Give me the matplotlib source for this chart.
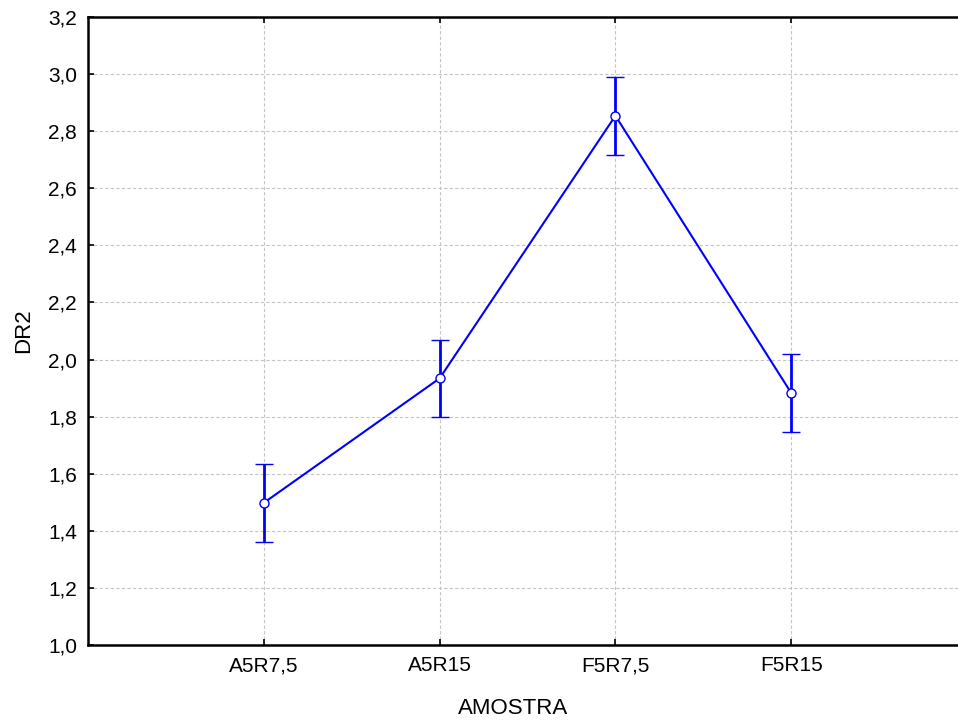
import numpy as np
import matplotlib
matplotlib.use('Agg')
import matplotlib.pyplot as plt

plt.rcParams['font.family'] = ['Liberation Sans', 'DejaVu Sans']

#%% data
amostras = ['A5R7,5', 'A5R15', 'F5R7,5', 'F5R15']
dr2_mean = [1.498, 1.934, 2.854, 1.883]
dr2_err = [0.137, 0.136, 0.137, 0.137]
y_ticks = [1.0, 1.2, 1.4, 1.6, 1.8, 2.0, 2.2, 2.4, 2.6, 2.8, 3.0, 3.2]

#%% plot
fig = plt.figure(figsize=(9.58, 7.24), dpi=100)
# axes run slightly past the right edge, like the original (no right border visible)
ax = fig.add_axes([88/958, 1 - 645/724, (967 - 88)/958, (645 - 17)/724])

x = np.arange(len(amostras))
ax.errorbar(x, dr2_mean, yerr=dr2_err, color='#0000ff', lw=1.5,
            elinewidth=2, capsize=6.5, capthick=2,
            marker='o', ms=6.5, mfc='white', mec='#0000ff', mew=1.0, zorder=3)

ax.set_xlim(-1, 4)
ax.set_ylim(1.0, 3.2)
ax.set_xticks(x)
ax.set_xticklabels(amostras)
ax.set_yticks(y_ticks)
ax.set_yticklabels([f'{v:.1f}'.replace('.', ',') for v in y_ticks])

ax.grid(True, color='#c4c4c4', ls=(0, (3, 2)), lw=0.8)
ax.tick_params(direction='in', length=4, width=1.2, labelsize=15,
               top=True, right=True, pad=8)
for s in ax.spines.values():
    s.set_linewidth(1.8)

ax.set_xlabel('AMOSTRA', fontsize=16)
ax.xaxis.set_label_coords(0.4835, -0.085)
ax.set_ylabel('DR2', fontsize=16, labelpad=10)

fig.savefig('out.png', dpi=100)
